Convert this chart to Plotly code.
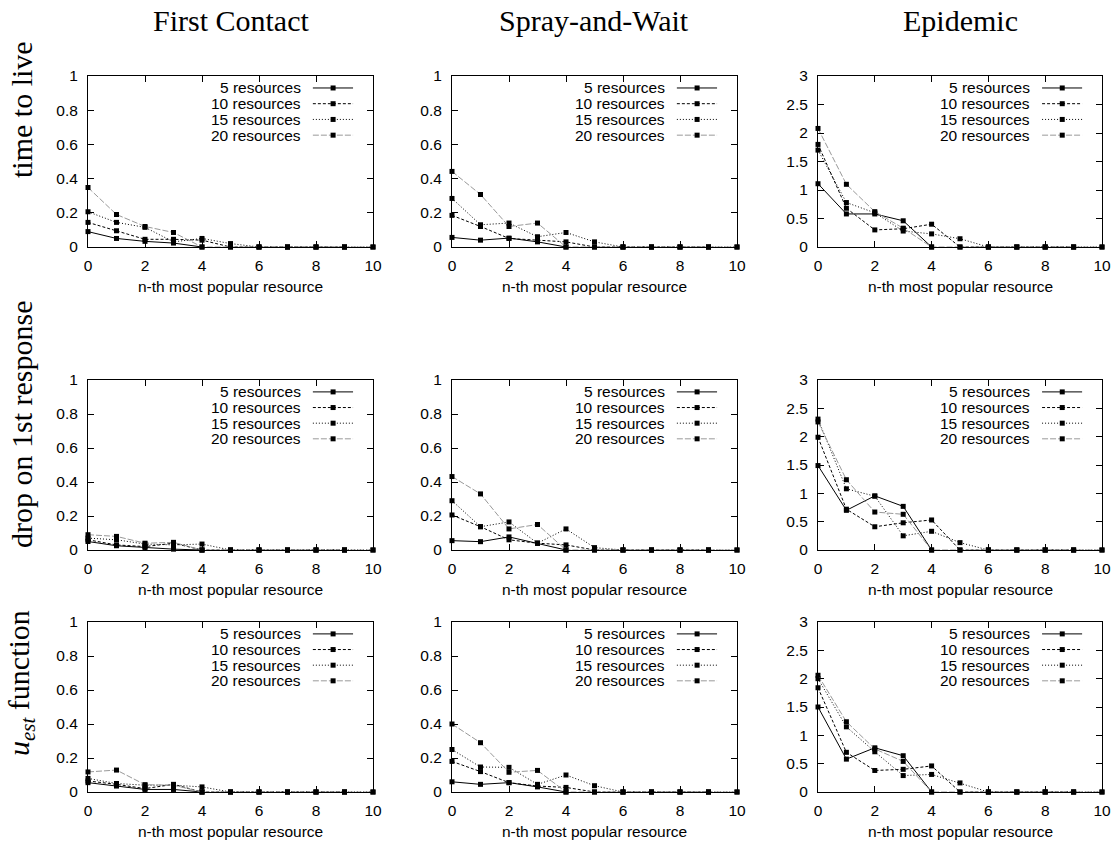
import plotly.graph_objects as go

# n-th most popular resource (x positions)
rank = list(range(11))
resource_counts = [5, 10, 15, 20]
legend_labels = ["5 resources", "10 resources", "15 resources", "20 resources"]

column_titles = ["First Contact", "Spray-and-Wait", "Epidemic"]
row_titles = ["time to live", "drop on 1st response", "<i>u</i><sub><i>est</i></sub> function"]
x_title = "n-th most popular resource"
x_ticks = [0, 2, 4, 6, 8, 10]
y_ticks_small = [0, 0.2, 0.4, 0.6, 0.8, 1]
y_ticks_large = [0, 0.5, 1, 1.5, 2, 2.5, 3]

# ---- time to live ----
ttl_first_contact = [
    [0.09, 0.05, 0.033, 0.023, 0.0],
    [0.144, 0.095, 0.045, 0.045, 0.04, 0, 0, 0, 0, 0],
    [0.206, 0.144, 0.115, 0.03, 0.05, 0.02, 0, 0, 0, 0, 0],
    [0.348, 0.19, 0.12, 0.085, 0.0, 0, 0, 0, 0, 0, 0],
]
ttl_spray_wait = [
    [0.056, 0.04, 0.052, 0.03, 0.0],
    [0.185, 0.12, 0.05, 0.04, 0.03, 0, 0, 0, 0, 0],
    [0.284, 0.13, 0.14, 0.06, 0.085, 0.03, 0, 0, 0, 0, 0],
    [0.442, 0.307, 0.12, 0.14, 0.0, 0, 0, 0, 0, 0, 0],
]
ttl_epidemic = [
    [1.11, 0.58, 0.58, 0.46, 0.0],
    [1.80, 0.68, 0.30, 0.32, 0.40, 0, 0, 0, 0, 0],
    [1.70, 0.78, 0.60, 0.28, 0.23, 0.145, 0, 0, 0, 0, 0],
    [2.08, 1.10, 0.62, 0.33, 0.0, 0, 0, 0, 0, 0, 0],
]

# ---- drop on 1st response ----
drop_first_contact = [
    [0.05, 0.025, 0.015, 0.005, 0.0],
    [0.06, 0.03, 0.02, 0.04, 0.0, 0, 0, 0, 0, 0],
    [0.07, 0.06, 0.035, 0.03, 0.035, 0, 0, 0, 0, 0, 0],
    [0.09, 0.08, 0.04, 0.045, 0.0, 0, 0, 0, 0, 0, 0],
]
drop_spray_wait = [
    [0.055, 0.049, 0.077, 0.04, 0.0],
    [0.206, 0.137, 0.06, 0.04, 0.03, 0, 0, 0, 0, 0],
    [0.29, 0.137, 0.165, 0.04, 0.124, 0.014, 0, 0, 0, 0, 0],
    [0.432, 0.33, 0.124, 0.15, 0.0, 0, 0, 0, 0, 0, 0],
]
drop_epidemic = [
    [1.49, 0.70, 0.955, 0.77, 0.0],
    [1.99, 0.72, 0.41, 0.48, 0.53, 0, 0, 0, 0, 0],
    [2.31, 1.08, 0.95, 0.25, 0.33, 0.13, 0, 0, 0, 0, 0],
    [2.26, 1.24, 0.67, 0.63, 0.0, 0, 0, 0, 0, 0, 0],
]

# ---- u_est function ----
uest_first_contact = [
    [0.055, 0.035, 0.015, 0.015, 0.0],
    [0.065, 0.045, 0.02, 0.045, 0.0, 0, 0, 0, 0, 0],
    [0.08, 0.05, 0.04, 0.04, 0.03, 0, 0, 0, 0, 0, 0],
    [0.118, 0.129, 0.043, 0.04, 0.0, 0, 0, 0, 0, 0, 0],
]
uest_spray_wait = [
    [0.06, 0.045, 0.055, 0.03, 0.0],
    [0.18, 0.12, 0.055, 0.035, 0.027, 0, 0, 0, 0, 0],
    [0.25, 0.147, 0.145, 0.045, 0.10, 0.037, 0, 0, 0, 0, 0],
    [0.40, 0.29, 0.116, 0.127, 0.0, 0, 0, 0, 0, 0, 0],
]
uest_epidemic = [
    [1.5, 0.58, 0.78, 0.64, 0.0],
    [1.84, 0.70, 0.38, 0.40, 0.46, 0, 0, 0, 0, 0],
    [2.0, 1.15, 0.71, 0.29, 0.31, 0.16, 0, 0, 0, 0, 0],
    [2.06, 1.24, 0.76, 0.54, 0.0, 0, 0, 0, 0, 0, 0],
]

panels = [
    [ttl_first_contact, ttl_spray_wait, ttl_epidemic],
    [drop_first_contact, drop_spray_wait, drop_epidemic],
    [uest_first_contact, uest_spray_wait, uest_epidemic],
]

# gnuplot-like line styles: solid, dashed, dotted, grey dashed
line_colors = ["black", "black", "black", "#999999"]
line_dashes = ["solid", "3px,2px", "1px,2px", "6px,2px"]

W, H = 1120, 843
col_px = [(88, 373), (452, 737), (818, 1102)]
row_px = [(76, 247), (380, 550), (622, 792)]

SANS = "Liberation Sans, Arial, sans-serif"
SERIF = "Liberation Serif, Times New Roman, serif"
SMALL = 15.5

fig = go.Figure()
layout = dict(
    width=W, height=H,
    margin=dict(l=0, r=0, t=0, b=0),
    paper_bgcolor="white", plot_bgcolor="white",
    showlegend=False,
    font=dict(family=SANS, size=SMALL, color="black"),
)
annotations = []
shapes = []

idx = 0
for r in range(3):
    for c in range(3):
        idx += 1
        xa = "x" if idx == 1 else f"x{idx}"
        ya = "y" if idx == 1 else f"y{idx}"
        xkey = "xaxis" if idx == 1 else f"xaxis{idx}"
        ykey = "yaxis" if idx == 1 else f"yaxis{idx}"
        x0p, x1p = col_px[c]
        y0p, y1p = row_px[r]
        yticks = y_ticks_large if c == 2 else y_ticks_small
        ymax = yticks[-1]
        axis_common = dict(
            showgrid=False, zeroline=False, showline=True, linecolor="black",
            linewidth=1, mirror="ticks", ticks="inside", ticklen=6,
            tickcolor="black", tickwidth=1, automargin=False,
            tickfont=dict(family=SANS, size=SMALL, color="black"),
        )
        layout[xkey] = dict(
            domain=[x0p / W, x1p / W], anchor=ya, range=[0, 10],
            tickvals=x_ticks, ticklabelstandoff=4, **axis_common,
        )
        layout[ykey] = dict(
            domain=[1 - y1p / H, 1 - y0p / H], anchor=xa, range=[0, ymax],
            tickvals=yticks, ticklabelstandoff=6, **axis_common,
        )

        for s, series in enumerate(panels[r][c]):
            fig.add_trace(go.Scatter(
                x=rank[:len(series)], y=series, xaxis=xa, yaxis=ya,
                mode="lines+markers", cliponaxis=False,
                line=dict(color=line_colors[s], width=1, dash=line_dashes[s]),
                marker=dict(symbol="square", size=5, color="black"),
                name=legend_labels[s],
            ))

        # key box inside each panel: label on the left, sample on the right
        key_rows = [0.93, 0.838, 0.746, 0.654]
        for s in range(4):
            annotations.append(dict(
                xref=f"{xa} domain", yref=f"{ya} domain",
                x=0.754, y=key_rows[s], xanchor="right", yanchor="middle",
                text=legend_labels[s], showarrow=False,
                font=dict(family=SANS, size=SMALL, color="black"),
            ))
            shapes.append(dict(
                type="line", xref=f"{xa} domain", yref=f"{ya} domain",
                x0=0.789, x1=0.930, y0=key_rows[s], y1=key_rows[s],
                line=dict(color=line_colors[s], width=1, dash=line_dashes[s]),
            ))
            shapes.append(dict(
                type="rect", xref=f"{xa} domain", yref=f"{ya} domain",
                xsizemode="pixel", ysizemode="pixel",
                xanchor=0.86, yanchor=key_rows[s],
                x0=-2.5, x1=2.5, y0=-2.5, y1=2.5,
                fillcolor="black", line=dict(width=0),
            ))

        annotations.append(dict(
            xref=f"{xa} domain", yref=f"{ya} domain",
            x=0.5, y=0, yshift=-39, xanchor="center", yanchor="middle",
            text=x_title, showarrow=False,
            font=dict(family=SANS, size=SMALL, color="black"),
        ))

# column headings
for c, title in enumerate(column_titles):
    x0p, x1p = col_px[c]
    annotations.append(dict(
        xref="paper", yref="paper", x=(x0p + x1p) / 2 / W, y=1 - 20 / H,
        xanchor="center", yanchor="middle", text=title, showarrow=False,
        font=dict(family=SERIF, size=30, color="black"),
    ))

# row headings, rotated
row_centers = [110, 425, 683]
for r, title in enumerate(row_titles):
    annotations.append(dict(
        xref="paper", yref="paper", x=21 / W, y=1 - row_centers[r] / H,
        xanchor="center", yanchor="middle", text=title, textangle=-90,
        showarrow=False, font=dict(family=SERIF, size=30, color="black"),
    ))

layout["annotations"] = annotations
layout["shapes"] = shapes
fig.update_layout(**layout)
fig.write_html("out.html")
